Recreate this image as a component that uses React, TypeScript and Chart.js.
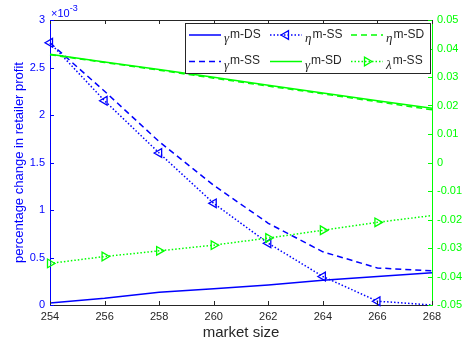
import React, { useEffect, useRef } from 'react';
import { Chart, registerables } from 'chart.js';

Chart.register(...registerables);

// ---- data ----
const marketSize = [254, 256, 258, 260, 262, 264, 266, 268];
// left axis (values in units of 1e-3)
const gammaDS = [0.02, 0.07, 0.135, 0.17, 0.21, 0.26, 0.3, 0.34];
const gammaSS = [2.76, 2.25, 1.72, 1.26, 0.86, 0.56, 0.39, 0.36];
const etaSS = [2.76, 2.15, 1.6, 1.07, 0.65, 0.3, 0.04, 0.0];
// right axis
const gammaSD = [0.038, 0.0353, 0.0326, 0.0299, 0.0271, 0.0244, 0.0217, 0.019];
const etaSD = [0.0378, 0.0351, 0.0324, 0.0296, 0.0268, 0.0241, 0.0213, 0.0185];
const lambdaSS = [-0.0354, -0.033, -0.031, -0.029, -0.0265, -0.0238, -0.021, -0.0186];

const xTickRange = [254, 268, 2];
const leftTickRange = [0, 3, 0.5];
const rightTickRange = [-0.05, 0.05, 0.01];

const xTitle = 'market size';
const yTitle = 'percentage change in retailer profit';
const leftExponent = '-3';

const BLUE = '#0000ff';
const GREEN = '#00ff00';
const DARK = '#262626';
const FONT = '"Liberation Sans", Arial, Helvetica, sans-serif';
const GREEK_FONT = '"Liberation Serif", "DejaVu Serif", serif';

const DOT = [1.5, 2];
const DASH = [6, 4];

type Entry = { greek: string; sup: string; color: string; dash: number[]; marker: number | null };
// legend laid out row by row, 3 columns
const legendEntries: Entry[] = [
  { greek: 'γ', sup: 'm-DS', color: BLUE, dash: [], marker: null },
  { greek: 'η', sup: 'm-SS', color: BLUE, dash: DOT, marker: -90 },
  { greek: 'η', sup: 'm-SD', color: GREEN, dash: DASH, marker: null },
  { greek: 'γ', sup: 'm-SS', color: BLUE, dash: DASH, marker: null },
  { greek: 'γ', sup: 'm-SD', color: GREEN, dash: [], marker: null },
  { greek: 'λ', sup: 'm-SS', color: GREEN, dash: DOT, marker: 90 },
];

const markerRadii = marketSize.map((_, i) => (i === marketSize.length - 1 ? 0 : 5));

function triangle(ctx: CanvasRenderingContext2D, x: number, y: number, r: number, rotDeg: number) {
  let rad = (rotDeg * Math.PI) / 180;
  ctx.beginPath();
  for (let k = 0; k < 3; k++) {
    const px = x + Math.sin(rad) * r;
    const py = y - Math.cos(rad) * r;
    if (k === 0) ctx.moveTo(px, py);
    else ctx.lineTo(px, py);
    rad += (2 * Math.PI) / 3;
  }
  ctx.closePath();
  ctx.stroke();
}

const decorPlugin = {
  id: 'decor',
  afterDraw(chart: any) {
    const ctx: CanvasRenderingContext2D = chart.ctx;
    const area = chart.chartArea;
    const xs = chart.scales.x;
    const yl = chart.scales.y;
    const yr = chart.scales.y2;
    const TL = 4;
    ctx.save();
    ctx.setLineDash([]);
    ctx.lineWidth = 1;
    // top border
    ctx.strokeStyle = DARK;
    ctx.beginPath();
    ctx.moveTo(area.left, area.top + 0.5);
    ctx.lineTo(area.right, area.top + 0.5);
    ctx.stroke();
    // x ticks (bottom and top)
    xs.ticks.forEach((t: any) => {
      const px = Math.round(xs.getPixelForValue(t.value)) + 0.5;
      ctx.beginPath();
      ctx.moveTo(px, area.bottom);
      ctx.lineTo(px, area.bottom - TL);
      ctx.moveTo(px, area.top);
      ctx.lineTo(px, area.top + TL);
      ctx.stroke();
    });
    ctx.strokeStyle = BLUE;
    yl.ticks.forEach((t: any) => {
      const py = Math.round(yl.getPixelForValue(t.value)) + 0.5;
      ctx.beginPath();
      ctx.moveTo(area.left, py);
      ctx.lineTo(area.left + TL, py);
      ctx.stroke();
    });
    ctx.strokeStyle = GREEN;
    yr.ticks.forEach((t: any) => {
      const py = Math.round(yr.getPixelForValue(t.value)) + 0.5;
      ctx.beginPath();
      ctx.moveTo(area.right, py);
      ctx.lineTo(area.right - TL, py);
      ctx.stroke();
    });

    // exponent label
    ctx.fillStyle = BLUE;
    ctx.textBaseline = 'middle';
    ctx.textAlign = 'left';
    ctx.font = `11px ${FONT}`;
    const base = '×10';
    ctx.fillText(base, area.left + 1, area.top - 6);
    const bw = ctx.measureText(base).width;
    ctx.font = `9px ${FONT}`;
    ctx.fillText(leftExponent, area.left + 1 + bw, area.top - 11);

    // legend
    const bx = 185.5, by = 23.5, bw2 = 245, bh = 50;
    ctx.fillStyle = '#ffffff';
    ctx.fillRect(bx, by, bw2, bh);
    ctx.strokeStyle = DARK;
    ctx.lineWidth = 1;
    ctx.strokeRect(bx, by, bw2, bh);
    const colX = [189, 270, 351];
    const rowY = [35, 61.5];
    legendEntries.forEach((e, i) => {
      const cx = colX[i % 3];
      const cy = rowY[Math.floor(i / 3)];
      ctx.strokeStyle = e.color;
      ctx.lineWidth = 1.5;
      ctx.setLineDash(e.dash);
      ctx.beginPath();
      ctx.moveTo(cx, cy);
      ctx.lineTo(cx + 32, cy);
      ctx.stroke();
      ctx.setLineDash([]);
      if (e.marker !== null) {
        ctx.lineWidth = 1.3;
        triangle(ctx, cx + 16, cy, 5, e.marker);
      }
      ctx.fillStyle = DARK;
      ctx.textBaseline = 'alphabetic';
      ctx.textAlign = 'left';
      ctx.font = `italic 13px ${GREEK_FONT}`;
      const gx = cx + 35;
      ctx.fillText(e.greek, gx, cy + 7);
      const gw = ctx.measureText(e.greek).width;
      ctx.font = `12px ${FONT}`;
      ctx.fillText(e.sup, gx + gw + 1, cy + 2.5);
    });
    ctx.restore();
  },
};

export default function App() {
  const ref = useRef<HTMLCanvasElement | null>(null);
  useEffect(() => {
    if (!ref.current) return;
    const toPts = (ys: number[]) => marketSize.map((x, i) => ({ x, y: ys[i] }));
    const chart = new Chart(ref.current, {
      type: 'line',
      data: {
        datasets: [
          {
            label: 'γ m-SD', data: toPts(gammaSD), yAxisID: 'y2', borderColor: GREEN,
            borderWidth: 1.5, pointRadius: 0, order: 0, clip: false as any,
          },
          {
            label: 'η m-SD', data: toPts(etaSD), yAxisID: 'y2', borderColor: GREEN,
            borderWidth: 1.5, borderDash: DASH, pointRadius: 0, order: 1, clip: false as any,
          },
          {
            label: 'λ m-SS', data: toPts(lambdaSS), yAxisID: 'y2', borderColor: GREEN,
            borderWidth: 1.5, borderDash: DOT, pointStyle: 'triangle', pointRotation: 90,
            pointRadius: markerRadii, pointBorderWidth: 1.3, pointBorderColor: GREEN,
            pointBackgroundColor: 'rgba(0,0,0,0)', order: 2, clip: false as any,
          },
          {
            label: 'γ m-DS', data: toPts(gammaDS), yAxisID: 'y', borderColor: BLUE,
            borderWidth: 1.5, pointRadius: 0, order: 3, clip: false as any,
          },
          {
            label: 'γ m-SS', data: toPts(gammaSS), yAxisID: 'y', borderColor: BLUE,
            borderWidth: 1.5, borderDash: DASH, pointRadius: 0, order: 4, clip: false as any,
          },
          {
            label: 'η m-SS', data: toPts(etaSS), yAxisID: 'y', borderColor: BLUE,
            borderWidth: 1.5, borderDash: DOT, pointStyle: 'triangle', pointRotation: -90,
            pointRadius: markerRadii, pointBorderWidth: 1.3, pointBorderColor: BLUE,
            pointBackgroundColor: 'rgba(0,0,0,0)', order: 5, clip: false as any,
          },
        ],
      },
      options: {
        responsive: false,
        animation: false,
        devicePixelRatio: 1,
        layout: { padding: { top: 20, left: 0, right: 0, bottom: 0 } },
        plugins: { legend: { display: false }, tooltip: { enabled: false } },
        elements: { line: { tension: 0 } },
        scales: {
          x: {
            type: 'linear',
            position: 'bottom',
            min: xTickRange[0],
            max: xTickRange[1],
            grid: { display: false, drawTicks: false },
            border: { display: true, color: DARK, width: 1 },
            ticks: { stepSize: xTickRange[2], color: DARK, font: { family: FONT, size: 11 }, padding: 5 },
            title: { display: true, text: xTitle, color: DARK, font: { family: FONT, size: 15 }, padding: { top: 0, bottom: 4 } },
            afterFit: (s: any) => { s.height = 41; },
          },
          y: {
            type: 'linear',
            position: 'left',
            min: leftTickRange[0],
            max: leftTickRange[1],
            grid: { display: false, drawTicks: false },
            border: { display: true, color: BLUE, width: 1 },
            ticks: {
              stepSize: leftTickRange[2], color: BLUE, font: { family: FONT, size: 11 }, padding: 5,
              callback: (v: any) => String(Math.round(Number(v) * 10) / 10),
            },
            title: { display: true, text: yTitle, color: BLUE, font: { family: FONT, size: 13 }, padding: { top: 12, bottom: 0 } },
            afterFit: (s: any) => { s.width = 50; },
          },
          y2: {
            type: 'linear',
            position: 'right',
            min: rightTickRange[0],
            max: rightTickRange[1],
            grid: { display: false, drawTicks: false },
            border: { display: true, color: GREEN, width: 1 },
            ticks: {
              stepSize: rightTickRange[2], color: GREEN, font: { family: FONT, size: 11 }, padding: 5,
              callback: (v: any) => {
                const r = Math.round(Number(v) * 100) / 100;
                return r === 0 ? '0' : String(r);
              },
            },
            afterFit: (s: any) => { s.width = 32; },
          },
        },
      },
      plugins: [decorPlugin],
    } as any);
    return () => chart.destroy();
  }, []);
  return (
    <div style={{ position: 'fixed', left: 0, top: 0, width: 464, height: 346, background: '#fff' }}>
      <canvas ref={ref} width={464} height={346} style={{ display: 'block', width: 464, height: 346 }} />
    </div>
  );
}
